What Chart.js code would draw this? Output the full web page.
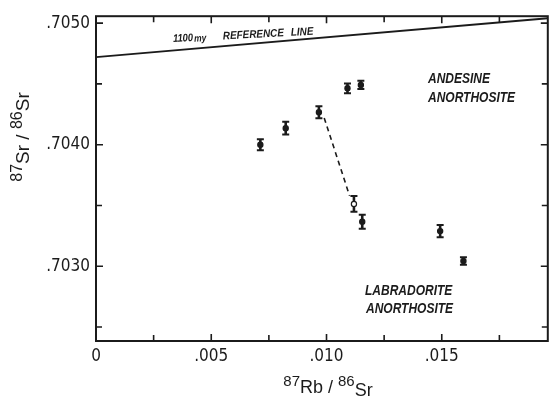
<!DOCTYPE html>
<html>
<head>
<meta charset="utf-8">
<script src="https://cdn.jsdelivr.net/npm/chart.js@4/dist/chart.umd.min.js"></script>
<style>
  html, body { margin: 0; padding: 0; background: #fff; }
  #wrap { width: 553px; height: 402px; }
</style>
</head>
<body>
<div id="wrap"><canvas id="isoChart" width="553" height="402"></canvas></div>
<script>
// -----------------------------
// Data
// -----------------------------
const rbSr  = [0.00713, 0.00823, 0.00967, 0.01091, 0.01149, 0.01119, 0.01155, 0.01493, 0.01594];
const srSr  = [0.70400, 0.704136, 0.704267, 0.704464, 0.704492, 0.703513, 0.703366, 0.703289, 0.703043];
const srErr = [0.000045, 0.000053, 0.00005, 0.00004, 0.000033, 0.000065, 0.000057, 0.00005, 0.00003];

// 1100 my reference isochron
const refX = [0, 0.0196];
const refY = [0.70472, 0.70504];

// dashed tie line
const tieX = [0.0099, 0.0110];
const tieY = [0.70422, 0.70358];

const xMin = 0, xMax = 0.0196, xStep = 0.0025;
const yMin = 0.702385, yMax = 0.705057, yStep = 0.0005;

const INK = "#1b1b1b";
const COND = "'DejaVu Sans Condensed', 'Liberation Sans', sans-serif";
const SANS = "'Liberation Sans', sans-serif";

function pts(xs, ys) {
    return xs.map((x, i) => ({ x: x, y: ys[i] }));
}

// squeezed lettering, left aligned at (x, y)
function narrowText(ctx, text, x, y, font, sx) {
    ctx.save();
    ctx.translate(x, y);
    ctx.scale(sx, 1);
    ctx.font = font;
    ctx.fillText(text, 0, 0);
    const w = ctx.measureText(text).width * sx;
    ctx.restore();
    return w;
}

// -----------------------------
// Plugins
// -----------------------------
const errorBars = {
    id: "errorBars",
    beforeDatasetsDraw(chart) {
        const ctx = chart.ctx;
        const xs = chart.scales.x, ys = chart.scales.y;
        ctx.save();
        ctx.strokeStyle = INK;
        rbSr.forEach((x, i) => {
            const px = xs.getPixelForValue(x);
            const top = ys.getPixelForValue(srSr[i] + srErr[i]);
            const bot = ys.getPixelForValue(srSr[i] - srErr[i]);
            ctx.lineWidth = 2.6;
            ctx.beginPath();
            ctx.moveTo(px, top);
            ctx.lineTo(px, bot);
            ctx.stroke();
            ctx.lineWidth = 2;
            ctx.beginPath();
            ctx.moveTo(px - 3.5, top); ctx.lineTo(px + 3.5, top);
            ctx.moveTo(px - 3.5, bot); ctx.lineTo(px + 3.5, bot);
            ctx.stroke();
        });
        ctx.restore();
    }
};

const frame = {
    id: "frame",
    afterDraw(chart) {
        const ctx = chart.ctx;
        const a = chart.chartArea;
        const xs = chart.scales.x, ys = chart.scales.y;
        ctx.save();
        ctx.strokeStyle = INK;
        ctx.lineWidth = 2;
        ctx.strokeRect(a.left, a.top, a.right - a.left, a.bottom - a.top);

        // inward ticks on all four sides
        ctx.lineWidth = 1.6;
        ctx.beginPath();
        xs.ticks.forEach(t => {
            const px = xs.getPixelForValue(t.value);
            const len = t.label ? 7 : 6;
            ctx.moveTo(px, a.bottom); ctx.lineTo(px, a.bottom - len);
            ctx.moveTo(px, a.top); ctx.lineTo(px, a.top + len);
        });
        ys.ticks.forEach(t => {
            const py = ys.getPixelForValue(t.value);
            const len = t.label ? 7 : 6;
            ctx.moveTo(a.left, py); ctx.lineTo(a.left + len, py);
            ctx.moveTo(a.right, py); ctx.lineTo(a.right - len, py);
        });
        ctx.stroke();

        // field labels
        ctx.fillStyle = INK;
        ctx.textBaseline = "middle";
        ctx.textAlign = "left";
        const field = "italic bold 15px " + SANS;
        narrowText(ctx, "ANDESINE", 428, 79, field, 0.8);
        narrowText(ctx, "ANORTHOSITE", 428, 98, field, 0.8);
        narrowText(ctx, "LABRADORITE", 365, 291, field, 0.8);
        narrowText(ctx, "ANORTHOSITE", 366, 309, field, 0.8);

        // reference line label
        ctx.save();
        ctx.translate(173, 39);
        ctx.rotate(-3 * Math.PI / 180);
        let x = 0;
        x += narrowText(ctx, "1100", x, 0, "italic bold 11px " + SANS, 0.85);
        narrowText(ctx, "my", x + 1, 1, "italic bold 10px " + SANS, 0.85);
        narrowText(ctx, "REFERENCE", 50, 0, "italic bold 11px " + SANS, 0.9);
        narrowText(ctx, "LINE", 118, 0, "italic bold 11px " + SANS, 0.9);
        ctx.restore();

        // axis titles with mass-number superscripts
        drawRich(ctx, [["87", 15, -6], ["Rb", 18, 0], [" / ", 18, 0], ["86", 15, -6], ["Sr", 18, 3]], 328, 388);
        ctx.save();
        ctx.translate(24, 137);
        ctx.rotate(-Math.PI / 2);
        drawRich(ctx, [["87", 16, -6], ["Sr", 19, 0], [" / ", 19, 0], ["86", 16, -6], ["Sr", 19, 0]], 0, 0);
        ctx.restore();
        ctx.restore();
    }
};

function drawRich(ctx, parts, cx, cy) {
    ctx.textBaseline = "middle";
    ctx.textAlign = "left";
    let total = 0;
    parts.forEach(p => {
        ctx.font = p[1] + "px " + SANS;
        total += ctx.measureText(p[0]).width;
    });
    let x = cx - total / 2;
    parts.forEach(p => {
        ctx.font = p[1] + "px " + SANS;
        ctx.fillText(p[0], x, cy + p[2]);
        x += ctx.measureText(p[0]).width;
    });
}

// -----------------------------
// Chart
// -----------------------------
new Chart(document.getElementById("isoChart"), {
    type: "scatter",
    data: {
        datasets: [
            {
                label: "Samples",
                data: pts(rbSr, srSr),
                pointRadius: 2.6,
                pointBackgroundColor: c => c.dataIndex === 5 ? "#fff" : INK,
                pointBorderColor: INK,
                pointBorderWidth: 1.2
            },
            {
                label: "Reference",
                data: pts(refX, refY),
                showLine: true,
                borderColor: INK,
                borderWidth: 1.8,
                pointRadius: 0
            },
            {
                label: "Tie",
                data: pts(tieX, tieY),
                showLine: true,
                borderColor: INK,
                borderWidth: 1.6,
                borderDash: [5, 4],
                pointRadius: 0
            }
        ]
    },
    options: {
        responsive: false,
        animation: false,
        layout: { padding: { top: 14, right: 1, left: 0, bottom: 0 } },
        plugins: {
            legend: { display: false },
            tooltip: { enabled: false }
        },
        scales: {
            x: {
                type: "linear",
                min: xMin, max: xMax,
                afterFit(s) { s.height = 61; },
                grid: { drawOnChartArea: false, drawTicks: false },
                border: { display: false },
                ticks: {
                    stepSize: xStep,
                    includeBounds: false,
                    autoSkip: false,
                    maxRotation: 0,
                    padding: 5,
                    color: INK,
                    font: { family: COND, size: 17 },
                    callback: v => {
                        if (Math.abs(v * 200 - Math.round(v * 200)) > 1e-6) return "";
                        return v === 0 ? "0" : "." + v.toFixed(3).slice(2);
                    }
                }
            },
            y: {
                type: "linear",
                min: yMin, max: yMax,
                afterFit(s) { s.width = 96; },
                grid: { drawOnChartArea: false, drawTicks: false },
                border: { display: false },
                ticks: {
                    stepSize: yStep,
                    includeBounds: false,
                    autoSkip: false,
                    padding: 6,
                    color: INK,
                    font: { family: COND, size: 17 },
                    callback: v => {
                        if (Math.abs(v * 1000 - Math.round(v * 1000)) > 1e-6) return "";
                        return "." + v.toFixed(4).slice(2);
                    }
                }
            }
        }
    },
    plugins: [errorBars, frame]
});
</script>
</body>
</html>
